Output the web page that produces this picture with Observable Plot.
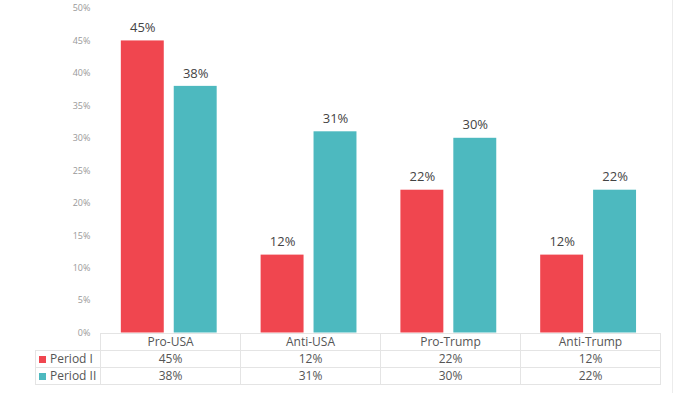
<!DOCTYPE html>
<html>
<head>
<meta charset="utf-8">
<script src="https://cdn.jsdelivr.net/npm/d3@7"></script>
<script src="https://cdn.jsdelivr.net/npm/@observablehq/plot@0.6"></script>
<style>
  html, body { margin: 0; padding: 0; background: #fff; }
  #wrap { position: relative; width: 673px; height: 393px; box-sizing: border-box; border-right: 1px solid #ececec; font-family: "Open Sans", sans-serif; }
  #chart svg { display: block; }
  table { border-collapse: collapse; position: absolute; left: 35px; top: 333px; font-size: 12px; color: #555; table-layout: fixed; }
  td { border: 1px solid #e4e4e4; height: 16px; padding: 0; text-align: center; line-height: 16px; background: white; }
  td.lab { text-align: left; padding-left: 3px; width: 61px; }
  td.empty { border-top: none; border-left: none; background: transparent; }
  td.val { width: 139px; }
  .sw { display: inline-block; width: 7px; height: 7px; margin-right: 4px; vertical-align: 0px; }
</style>
</head>
<body>
<div id="wrap">
<div id="chart"></div>
</div>
<script>
const categories = ["Pro-USA", "Anti-USA", "Pro-Trump", "Anti-Trump"];
const seriesNames = ["Period I", "Period II"];
const period1 = [45, 12, 22, 12];
const period2 = [38, 31, 30, 22];
const colors = ["#F0464F", "#4DB9BF"];
const yTicks = [0, 5, 10, 15, 20, 25, 30, 35, 40, 45, 50];

const data = [];
categories.forEach((c, i) => {
  data.push({category: c, series: seriesNames[0], value: period1[i]});
  data.push({category: c, series: seriesNames[1], value: period2[i]});
});

const plot = Plot.plot({
  width: 673,
  height: 340,
  marginLeft: 99,
  marginRight: 14,
  marginTop: 8,
  marginBottom: 7,
  style: {fontFamily: "'Open Sans', sans-serif", background: "white", overflow: "visible"},
  fx: {domain: categories, padding: 0, axis: null},
  x: {domain: seriesNames, paddingInner: 0.185, paddingOuter: 0.389, axis: null},
  y: {domain: [0, 50], ticks: yTicks, tickFormat: d => d + "%", tickSize: 0, tickPadding: 9, label: null},
  color: {domain: seriesNames, range: colors},
  marks: [
    Plot.axisY({ticks: yTicks, tickFormat: d => d + "%", tickSize: 0, tickPadding: 9, fontSize: 9, fill: "#999", label: null}),
    Plot.barY(data, {fx: "category", x: "series", y: "value", fill: "series"}),
    Plot.text(data, {fx: "category", x: "series", y: "value", text: d => d.value + "%", dy: -13, fontSize: 13, fill: "#444"})
  ]
});
document.getElementById("chart").appendChild(plot);

// data table below the chart
const table = document.createElement("table");
const header = document.createElement("tr");
const empty = document.createElement("td");
empty.className = "lab empty";
header.appendChild(empty);
categories.forEach(c => {
  const td = document.createElement("td");
  td.className = "val";
  td.textContent = c;
  header.appendChild(td);
});
table.appendChild(header);
[period1, period2].forEach((vals, si) => {
  const tr = document.createElement("tr");
  const lab = document.createElement("td");
  lab.className = "lab";
  const sw = document.createElement("span");
  sw.className = "sw";
  sw.style.background = colors[si];
  lab.appendChild(sw);
  lab.appendChild(document.createTextNode(seriesNames[si]));
  tr.appendChild(lab);
  vals.forEach(v => {
    const td = document.createElement("td");
    td.className = "val";
    td.textContent = v + "%";
    tr.appendChild(td);
  });
  table.appendChild(tr);
});
document.getElementById("wrap").appendChild(table);
</script>
</body>
</html>
